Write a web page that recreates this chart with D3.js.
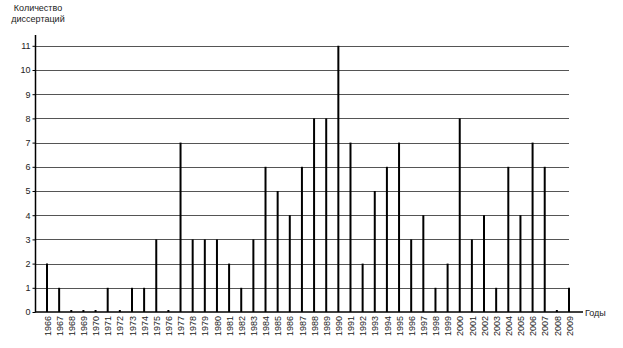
<!DOCTYPE html>
<html>
<head>
<meta charset="utf-8">
<script src="https://cdn.jsdelivr.net/npm/d3@7"></script>
<style>
  body { margin: 0; background: #fff; }
  text { font-family: "Liberation Sans", Arial, sans-serif; fill: #222; }
</style>
</head>
<body>
<script>
// Years and dissertation counts
const years = d3.range(1966, 2010);
const counts = [2, 1, 0, 0, 0, 1, 0, 1, 1, 3, 0, 7, 3, 3, 3, 2, 1, 3, 6, 5, 4, 6, 8, 8, 11,
  7, 2, 5, 6, 7, 3, 4, 1, 2, 8, 3, 4, 1, 6, 4, 7, 6, 0, 1];
const yTicks = d3.range(0, 12);

const width = 623;
const height = 348;

const svg = d3.select('body').append('svg')
  .attr('width', width)
  .attr('height', height);

const x = d3.scaleLinear()
  .domain([1966, 2009])
  .range([47, 569]);

const y = d3.scaleLinear()
  .domain([0, 11])
  .range([312, 45.8]);

// grid lines
svg.selectAll('.grid')
  .data(yTicks.filter(d => d > 0))
  .enter().append('line')
  .attr('class', 'grid')
  .attr('x1', 35)
  .attr('x2', x(2009))
  .attr('y1', d => Math.round(y(d)) + 0.5)
  .attr('y2', d => Math.round(y(d)) + 0.5)
  .attr('stroke', '#555')
  .attr('stroke-width', 1.2);

// bars (drawn as thick lines)
const data = years.map((yr, i) => ({ year: yr, value: counts[i] }));

svg.selectAll('.bar')
  .data(data.filter(d => d.value > 0))
  .enter().append('line')
  .attr('class', 'bar')
  .attr('x1', d => x(d.year))
  .attr('x2', d => x(d.year))
  .attr('y1', y(0))
  .attr('y2', d => y(d.value))
  .attr('stroke', '#000')
  .attr('stroke-width', 2);

// zero values get a small dot
svg.selectAll('.dot')
  .data(data.filter(d => d.value === 0))
  .enter().append('rect')
  .attr('class', 'dot')
  .attr('x', d => x(d.year) - 1)
  .attr('y', y(0) - 2)
  .attr('width', 2)
  .attr('height', 2)
  .attr('fill', '#000');

// y axis
const yAxis = d3.axisLeft(y)
  .tickValues(yTicks)
  .tickSize(3)
  .tickFormat(d3.format('d'));

const gy = svg.append('g')
  .attr('transform', 'translate(35.5,0)')
  .call(yAxis);
gy.select('.domain').remove();
gy.selectAll('.tick line').attr('stroke', '#000');
gy.selectAll('.tick text').attr('font-size', 9).attr('x', -5);
svg.append('line')
  .attr('x1', 35.5).attr('x2', 35.5)
  .attr('y1', 35).attr('y2', y(0))
  .attr('stroke', '#000').attr('stroke-width', 1.5);

// x axis
const xAxis = d3.axisBottom(x)
  .tickValues(years)
  .tickSize(0)
  .tickFormat(d3.format('d'));

const gx = svg.append('g')
  .attr('transform', `translate(0,${y(0)})`)
  .call(xAxis);
gx.select('.domain').remove();
gx.selectAll('.tick text')
  .attr('font-size', 9)
  .attr('transform', 'rotate(-90)')
  .attr('text-anchor', 'end')
  .attr('x', -4)
  .attr('y', 0)
  .attr('dy', '0.35em');

svg.append('line')
  .attr('x1', 35).attr('x2', 583)
  .attr('y1', y(0)).attr('y2', y(0))
  .attr('stroke', '#000').attr('stroke-width', 1.5);

// axis titles
svg.append('text')
  .attr('x', 38).attr('y', 11)
  .attr('text-anchor', 'middle')
  .attr('font-size', 9)
  .text('Количество');
svg.append('text')
  .attr('x', 38).attr('y', 22)
  .attr('text-anchor', 'middle')
  .attr('font-size', 9)
  .text('диссертаций');
svg.append('text')
  .attr('x', 585).attr('y', y(0) + 4)
  .attr('font-size', 9)
  .text('Годы');
</script>
</body>
</html>
